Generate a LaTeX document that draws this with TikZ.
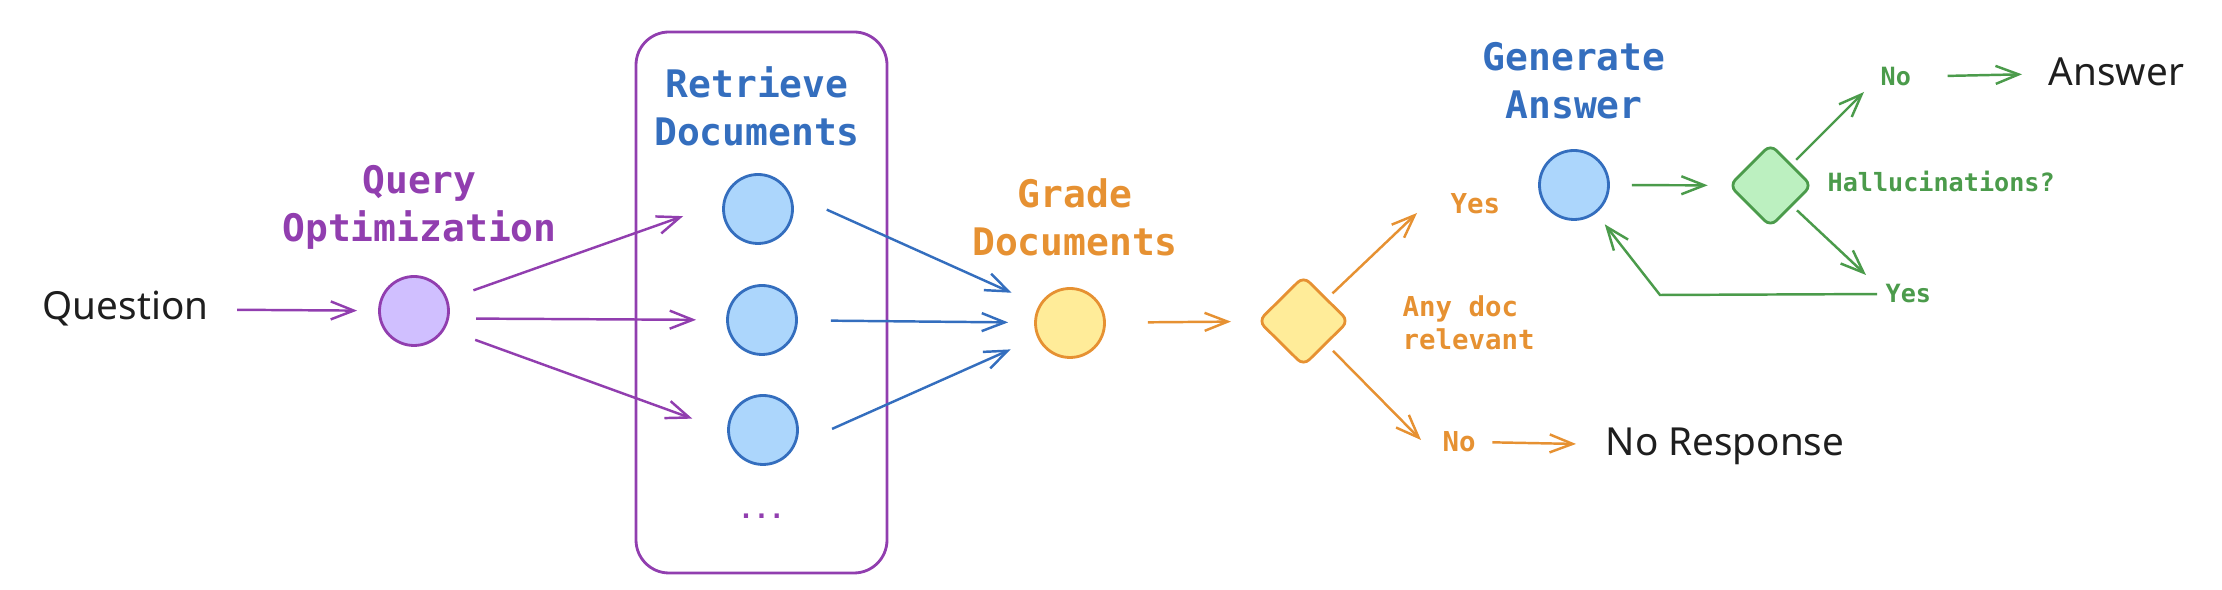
\documentclass[tikz,border=0pt]{standalone}
\usepackage{fontspec}
\setmonofont{DejaVu Sans Mono}
\newfontfamily\handfont{Noto Sans}
\usepackage{tikz}
\usetikzlibrary{arrows.meta,shapes.geometric}
\definecolor{deeppurple}{RGB}{145,62,175}
\definecolor{softpurple}{RGB}{208,191,255}
\definecolor{deepblue}{RGB}{52,110,190}
\definecolor{softblue}{RGB}{172,214,252}
\definecolor{deeporange}{RGB}{230,145,50}
\definecolor{softyellow}{RGB}{255,236,153}
\definecolor{deepgreen}{RGB}{75,155,75}
\definecolor{softgreen}{RGB}{188,240,192}
\definecolor{inkblack}{RGB}{30,30,30}

\begin{document}
\begin{tikzpicture}[
    arrow/.style={-{Straight Barb[length=2.3mm,width=1.8mm]}, line width=0.7pt},
    circ/.style={
        circle,
        line width=0.8pt,
        minimum size=0.69cm,
        inner sep=0pt
    },
    decision/.style={
        diamond,
        line width=0.8pt,
        rounded corners=2.3pt,
        inner sep=0pt
    },
    headtext/.style={
        font=\ttfamily\bfseries\fontsize{10.8}{13.66}\selectfont,
        align=center,
        inner sep=0pt
    },
    smalltext/.style={
        font=\ttfamily\bfseries\fontsize{7.8}{9.4}\selectfont,
        inner sep=0pt
    },
    greentext/.style={
        font=\ttfamily\bfseries\fontsize{7.15}{8.6}\selectfont,
        text=deepgreen,
        inner sep=0pt
    },
    handtext/.style={
        font=\handfont\fontsize{11}{13}\selectfont,
        text=inkblack,
        inner sep=0pt
    }
]

\useasboundingbox (0,0) rectangle (22.22,-5.90);

% QUESTION AND QUERY OPTIMIZATION
\node[handtext, anchor=base west] (question) at (0.42,-3.20)
{Question};

\node[circ, draw=deeppurple, fill=softpurple] (query) at (4.14,-3.11) {};

\node[headtext, text=deeppurple] (querytitle) at (4.195,-2.07)
{Query\\Optimization};

\draw[arrow, deeppurple, shorten <=0.28cm, shorten >=0.21cm] (question) -- (query);

% RETRIEVE DOCUMENTS
\node[draw=deeppurple, line width=0.8pt, rounded corners=0.33cm,
      minimum width=2.51cm, minimum height=5.41cm, inner sep=0pt]
      (retrievebox) at (7.615,-3.025) {};

\node[headtext, text=deepblue] (retrievetitle) at (7.57,-1.065)
{Retrieve\\Documents};

\node[circ, draw=deepblue, fill=softblue] (doc1) at (7.58,-2.09) {};
\node[circ, draw=deepblue, fill=softblue] (doc2) at (7.62,-3.20) {};
\node[circ, draw=deepblue, fill=softblue] (doc3) at (7.63,-4.30) {};

\node[font=\ttfamily\bfseries\fontsize{7.3}{8.8}\selectfont, text=deeppurple,
      inner sep=0pt, anchor=base] (moredocs) at (7.615,-5.19) {...};

\draw[arrow, deeppurple, shorten <=0.27cm, shorten >=0.42cm] (query.19) -- (doc1.169);
\draw[arrow, deeppurple, shorten <=0.27cm, shorten >=0.30cm] (query.-12) -- (doc2.west);
\draw[arrow, deeppurple, shorten <=0.32cm, shorten >=0.37cm] (query.-30) -- (doc3.182);

% GRADE DOCUMENTS
\node[circ, draw=deeporange, fill=softyellow] (grade) at (10.70,-3.23) {};

\node[headtext, text=deeporange] (gradetitle) at (10.75,-2.17)
{Grade\\Documents};

\draw[arrow, deepblue, shorten <=0.40cm, shorten >=0.30cm] (doc1.26) -- (grade.150);
\draw[arrow, deepblue, shorten <=0.33cm, shorten >=0.26cm] (doc2) -- (grade);
\draw[arrow, deepblue, shorten <=0.40cm, shorten >=0.29cm] (doc3.-25) -- (grade.204);

% ANY DOC RELEVANT
\node[decision, draw=deeporange, fill=softyellow, minimum width=0.91cm,
      minimum height=0.90cm] (relevant) at (13.035,-3.21) {};

\node[smalltext, text=deeporange, align=left, anchor=north west] (relevanttext)
      at (14.02,-2.947) {Any doc\\relevant};

\node[smalltext, text=deeporange, anchor=base west] (yes1) at (14.50,-2.14) {Yes};
\node[smalltext, text=deeporange, anchor=base west] (no1) at (14.42,-4.515) {No};

\node[handtext, anchor=base west] (noresponse) at (16.05,-4.56)
{No Response};

\coordinate (yes1tip) at (14.17,-2.13);
\coordinate (no1tip) at (14.21,-4.40);

\draw[arrow, deeporange, shorten <=0.42cm, shorten >=0.26cm] (grade) -- (relevant);
\draw[arrow, deeporange, shorten <=0.07cm] (relevant) -- (yes1tip);
\draw[arrow, deeporange, shorten <=0.09cm] (relevant) -- (no1tip);
\draw[arrow, deeporange, shorten <=0.16cm, shorten >=0.29cm] (no1) -- (noresponse);

% GENERATE ANSWER
\node[circ, draw=deepblue, fill=softblue] (generate) at (15.74,-1.85) {};

\node[headtext, text=deepblue] (generatetitle) at (15.74,-0.81)
{Generate\\Answer};

% HALLUCINATIONS
\node[decision, draw=deepgreen, fill=softgreen, minimum width=0.83cm,
      minimum height=0.83cm] (hallucination) at (17.705,-1.855) {};

\node[greentext, anchor=base west] (hallucinationtext) at (18.27,-1.92)
{Hallucinations?};

\node[greentext, anchor=base west] (no2) at (18.80,-0.86) {No};
\node[greentext, anchor=base west] (yes2) at (18.85,-3.03) {Yes};

\node[handtext, anchor=base west] (answer) at (20.48,-0.86)
{Answer};

\coordinate (no2tip) at (18.64,-0.92);
\coordinate (yes2tip) at (18.66,-2.75);
\coordinate (retry) at (16.60,-2.95);

\draw[arrow, deepgreen, shorten <=0.22cm, shorten >=0.20cm] (generate) -- (hallucination);
\draw[arrow, deepgreen, shorten <=0.06cm] (hallucination) -- (no2tip);
\draw[arrow, deepgreen, shorten <=0.06cm] (hallucination) -- (yes2tip);
\draw[arrow, deepgreen, shorten <=0.36cm, shorten >=0.26cm] (no2) -- (answer);
\draw[arrow, deepgreen, shorten <=0.08cm, shorten >=0.14cm] (yes2.west) -- (retry) -- (generate);

\end{tikzpicture}
\end{document}
